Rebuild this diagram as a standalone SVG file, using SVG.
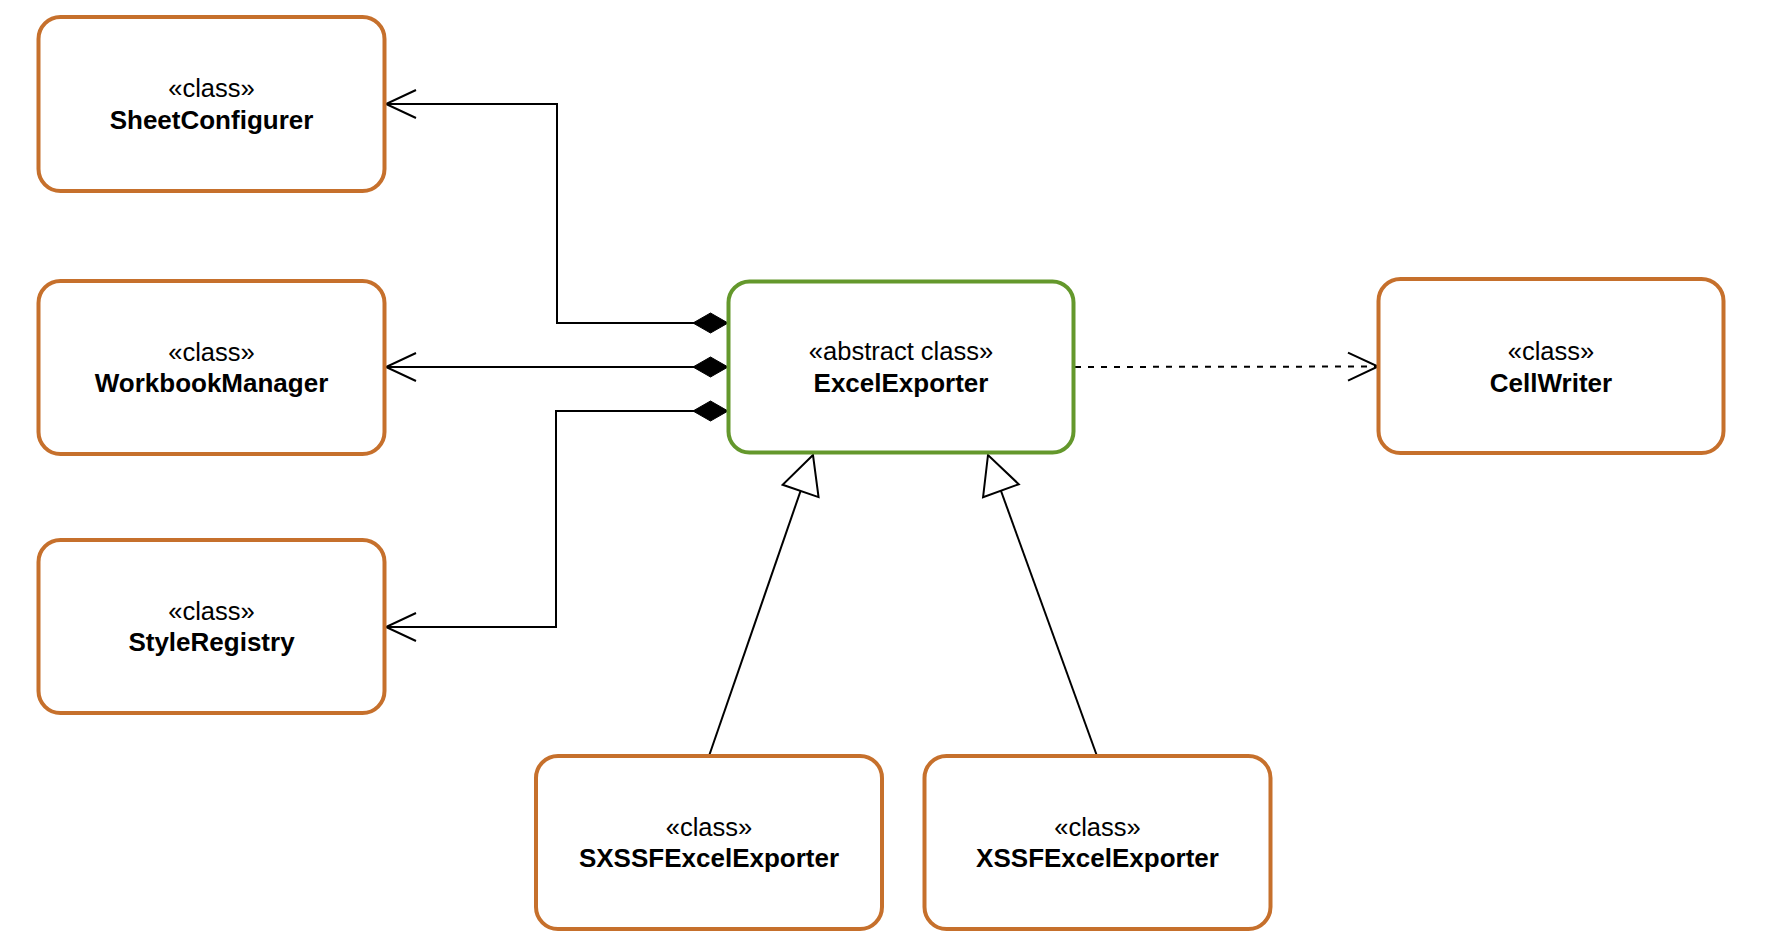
<svg xmlns="http://www.w3.org/2000/svg" width="1766" height="940" viewBox="0 0 1766 940">
  <style>
    .cls { fill: #ffffff; stroke: #c6702c; stroke-width: 4; }
    .abs { fill: #ffffff; stroke: #64982c; stroke-width: 4; }
    .st { font-family: "Liberation Sans", Arial, Helvetica, sans-serif; font-size: 25.5px; fill: #000000; text-anchor: middle; }
    .nm { font-family: "Liberation Sans", Arial, Helvetica, sans-serif; font-size: 26px; font-weight: bold; fill: #000000; text-anchor: middle; }
    .edge { fill: none; stroke: #000000; stroke-width: 2; }
    .dash { stroke-dasharray: 6 7; }
  </style>
  <defs>
    <marker id="diamond" markerUnits="userSpaceOnUse" viewBox="-2 -12 40 24" refX="0" refY="0" markerWidth="40" markerHeight="24" orient="auto" overflow="visible">
      <path d="M0,0 L17.5,-10 L35,0 L17.5,10 Z" fill="#000000" stroke="#000000" stroke-width="1"/>
    </marker>
    <marker id="open" markerUnits="userSpaceOnUse" viewBox="-32 -16 34 32" refX="0" refY="0" markerWidth="34" markerHeight="32" orient="auto" overflow="visible">
      <path d="M-30,-14 L0,0 L-30,14" fill="none" stroke="#000000" stroke-width="2" stroke-dasharray="none"/>
    </marker>
    <marker id="hollow" markerUnits="userSpaceOnUse" viewBox="-40 -21 42 42" refX="0" refY="0" markerWidth="42" markerHeight="42" orient="auto" overflow="visible">
      <path d="M0,0 L-38,-19 L-38,19 Z" fill="#ffffff" stroke="#000000" stroke-width="2"/>
    </marker>
  </defs>

  <g id="connectors">
    <path class="edge" d="M728,323 L557,323 L557,104 L386,104" marker-start="url(#diamond)" marker-end="url(#open)"/>
    <path class="edge" d="M728,367 L386,367" marker-start="url(#diamond)" marker-end="url(#open)"/>
    <path class="edge" d="M728,411 L556,411 L556,627 L386,627" marker-start="url(#diamond)" marker-end="url(#open)"/>
    <path class="edge dash" d="M1075,367 L1378,366.5" marker-end="url(#open)"/>
    <path class="edge" d="M709,756 L813,455" marker-end="url(#hollow)"/>
    <path class="edge" d="M1097,756 L988,455" marker-end="url(#hollow)"/>
  </g>

  <g id="SheetConfigurer">
    <rect class="cls" x="38.5" y="17" width="346" height="174" rx="22" ry="22"/>
    <text class="st" x="211.5" y="97">«class»</text>
    <text class="nm" x="211.5" y="128.5">SheetConfigurer</text>
  </g>

  <g id="WorkbookManager">
    <rect class="cls" x="38.5" y="281" width="346" height="173" rx="22" ry="22"/>
    <text class="st" x="211.5" y="360.5">«class»</text>
    <text class="nm" x="211.5" y="392">WorkbookManager</text>
  </g>

  <g id="StyleRegistry">
    <rect class="cls" x="38.5" y="540" width="346" height="173" rx="22" ry="22"/>
    <text class="st" x="211.5" y="619.5">«class»</text>
    <text class="nm" x="211.5" y="651">StyleRegistry</text>
  </g>

  <g id="ExcelExporter">
    <rect class="abs" x="728.5" y="281.5" width="345" height="171" rx="21" ry="21"/>
    <text class="st" x="901" y="360">«abstract class»</text>
    <text class="nm" x="901" y="391.5">ExcelExporter</text>
  </g>

  <g id="CellWriter">
    <rect class="cls" x="1378.5" y="279" width="345" height="174" rx="22" ry="22"/>
    <text class="st" x="1551" y="360">«class»</text>
    <text class="nm" x="1551" y="391.5">CellWriter</text>
  </g>

  <g id="SXSSFExcelExporter">
    <rect class="cls" x="536" y="756" width="346" height="173" rx="22" ry="22"/>
    <text class="st" x="709" y="835.5">«class»</text>
    <text class="nm" x="709" y="867">SXSSFExcelExporter</text>
  </g>

  <g id="XSSFExcelExporter">
    <rect class="cls" x="924.5" y="756" width="346" height="173" rx="22" ry="22"/>
    <text class="st" x="1097.5" y="835.5">«class»</text>
    <text class="nm" x="1097.5" y="867">XSSFExcelExporter</text>
  </g>
</svg>
